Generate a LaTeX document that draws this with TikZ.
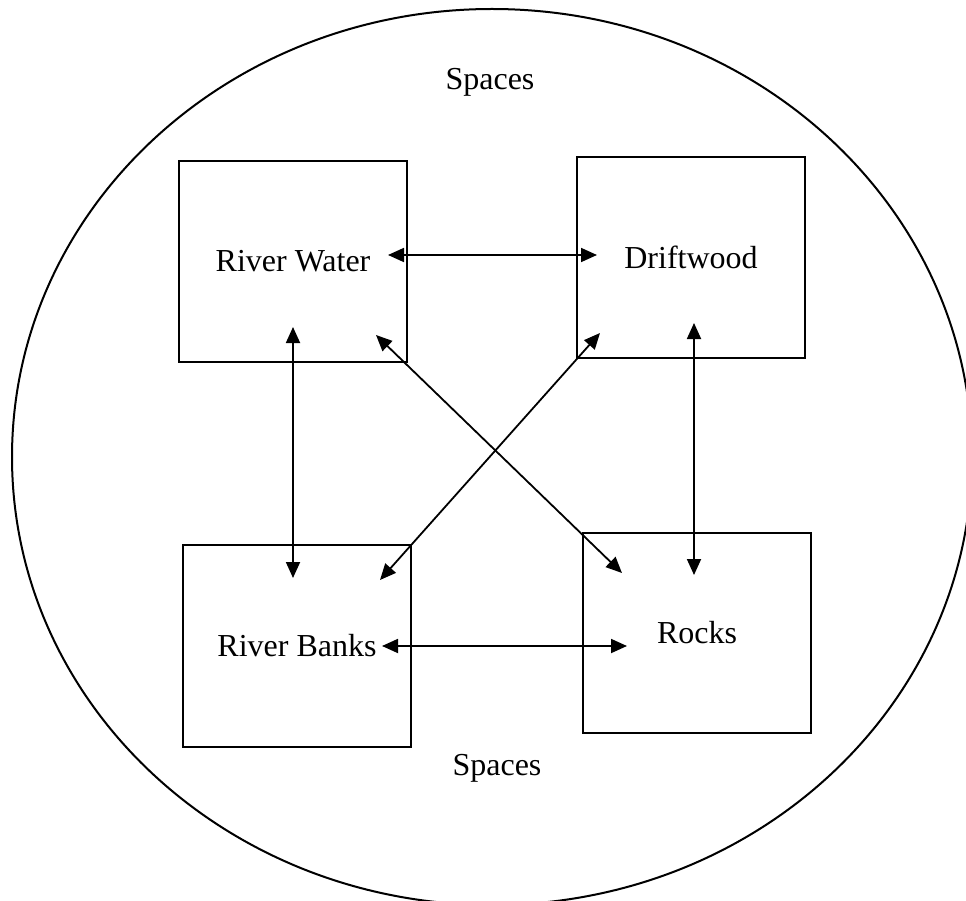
\documentclass[tikz,border=0pt]{standalone}
\usepackage{fontspec}
\setmainfont{Liberation Serif}
\usetikzlibrary{arrows.meta}
\begin{document}
\begin{tikzpicture}[x=1pt,y=-1pt,
  box/.style={draw,line width=2.1pt,minimum width=228pt,minimum height=201pt,inner sep=0pt,font=\fontsize{32}{38}\selectfont},
  lbl/.style={font=\fontsize{32}{38}\selectfont,inner sep=0pt},
  link/.style={line width=1.8pt,{Triangle[length=16pt,width=14pt]}-{Triangle[length=16pt,width=14pt]}}]
\useasboundingbox (0,0) rectangle (966,901);
\begin{scope}
\clip (0,0) rectangle (966,901);
\draw[line width=2pt] (492,457) ellipse [x radius=480, y radius=448];
\end{scope}
\node[lbl] (sp1) at (490,82) {Spaces};
\node[lbl] (sp2) at (497,768) {Spaces};
\node[box] (rw) at (293,261.5) {River Water};
\node[box] (dw) at (691,257.5) {Driftwood};
\node[box,minimum height=202pt] (rb) at (297,646) {River Banks};
\node[box,minimum height=200pt] (rk) at (697,633) {Rocks};
\coordinate (a1) at (388,255);
\coordinate (a2) at (597,255);
\coordinate (b1) at (293,327);
\coordinate (b2) at (293,578);
\coordinate (c1) at (694,323);
\coordinate (c2) at (694,575);
\coordinate (d1) at (376,335);
\coordinate (d2) at (622,573);
\coordinate (e1) at (600,333);
\coordinate (e2) at (380,580);
\coordinate (f1) at (382,646);
\coordinate (f2) at (627,646);
\draw[link] (a1) -- (a2);
\draw[link] (b1) -- (b2);
\draw[link] (c1) -- (c2);
\draw[link] (d1) -- (d2);
\draw[link] (e1) -- (e2);
\draw[link] (f1) -- (f2);
\end{tikzpicture}
\end{document}
